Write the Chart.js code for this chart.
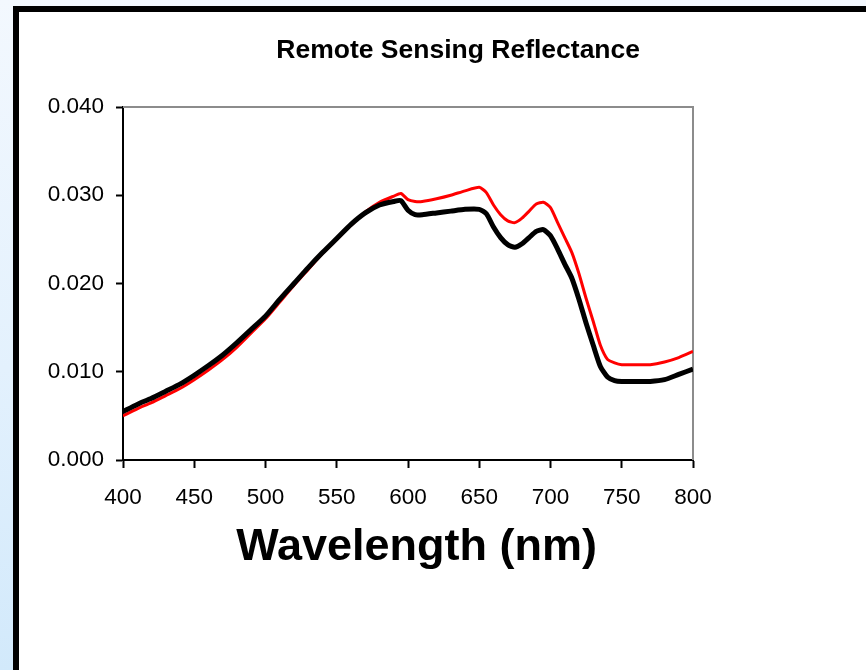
<!DOCTYPE html>
<html>
<head>
<meta charset="utf-8">
<script src="https://cdn.jsdelivr.net/npm/chart.js@4"></script>
<style>
  html, body { margin: 0; padding: 0; overflow: hidden; }
  body {
    width: 866px; height: 670px;
    background: linear-gradient(to bottom, #f3f8fe 0%, #e3f1fd 55%, #d2e9fb 100%);
  }
  .frame {
    position: absolute; left: 13px; top: 6px;
    width: 900px; height: 700px;
    border-left: 6px solid #000; border-top: 6px solid #000;
    background: #fff;
  }
  .wrap { position: absolute; left: 0; top: 0; width: 847px; height: 658px; }
</style>
</head>
<body>
<div class="frame"><div class="wrap"><canvas id="chart"></canvas></div></div>
<script>
// wavelength (nm) and the two reflectance spectra
const wavelengths = [400, 410, 420, 430, 440, 450, 460, 470, 480, 490, 500, 510, 520, 530, 540, 550, 560, 570, 580, 590, 595,
  600, 605, 610, 620, 630, 640, 650, 655, 660, 665, 670, 675, 680, 685, 690, 695, 700, 705, 710, 715, 720, 725, 730, 735,
  740, 745, 750, 760, 770, 780, 790, 800];
const blackSeries = [0.0055, 0.0063, 0.0070, 0.0078, 0.0086, 0.0096, 0.0107, 0.0119, 0.0133, 0.0148, 0.0163, 0.0182, 0.0200,
  0.0218, 0.0235, 0.0251, 0.0267, 0.0280, 0.0289, 0.0293, 0.0294,
  0.0283, 0.0278, 0.0278, 0.0280, 0.0282, 0.0284, 0.0284, 0.0279, 0.0264, 0.0252, 0.0244, 0.0241, 0.0245, 0.0252, 0.0259,
  0.0261, 0.0254, 0.0239, 0.0222, 0.0206, 0.0182, 0.0155, 0.0130, 0.0106,
  0.0094, 0.0090, 0.0089, 0.0089, 0.0089, 0.0091, 0.0097, 0.0103];
const redSeries = [0.0050, 0.0058, 0.0065, 0.0073, 0.0081, 0.0091, 0.0102, 0.0114, 0.0128, 0.0144, 0.0160, 0.0179, 0.0198,
  0.0216, 0.0234, 0.0250, 0.0266, 0.0281, 0.0292, 0.0299, 0.0302,
  0.0295, 0.0293, 0.0293, 0.0296, 0.0300, 0.0305, 0.0309, 0.0303, 0.0289, 0.0278, 0.0271, 0.0269, 0.0274, 0.0282, 0.0290,
  0.0292, 0.0286, 0.0269, 0.0252, 0.0235, 0.0211, 0.0183, 0.0157, 0.0130,
  0.0114, 0.0110, 0.0108, 0.0108, 0.0108, 0.0111, 0.0116, 0.0123];

const xTicks = [400, 450, 500, 550, 600, 650, 700, 750, 800];
const yTicks = [0, 0.01, 0.02, 0.03, 0.04];

const FONT = "'Liberation Sans', Arial, sans-serif";

function toPoints(values) {
  return wavelengths.map((w, i) => ({ x: w, y: values[i] }));
}

// grey frame on top/right of the plot area, plus the two titles
const decorations = {
  id: "decorations",
  beforeDatasetsDraw(chart) {
    const { ctx, chartArea: a } = chart;
    ctx.save();
    ctx.strokeStyle = "#8c8c8c";
    ctx.lineWidth = 2;
    ctx.beginPath();
    ctx.moveTo(a.left, a.top);
    ctx.lineTo(a.right, a.top);
    ctx.lineTo(a.right, a.bottom);
    ctx.stroke();
    ctx.restore();
  },
  afterDraw(chart) {
    const { ctx, chartArea: a } = chart;
    ctx.save();
    ctx.fillStyle = "#000";
    ctx.textAlign = "center";
    ctx.textBaseline = "alphabetic";
    ctx.font = "bold 26.5px " + FONT;
    ctx.fillText("Remote Sensing Reflectance", a.left + (a.right - a.left) * 0.588, a.top - 49.5);
    ctx.font = "bold 45px " + FONT;
    ctx.fillText("Wavelength (nm)", a.left + (a.right - a.left) * 0.515, a.bottom + 100);
    ctx.restore();
  }
};

new Chart(document.getElementById("chart"), {
  type: "line",
  data: {
    datasets: [
      {
        label: "black",
        data: toPoints(blackSeries),
        borderColor: "#000",
        borderWidth: 5,
        pointRadius: 0,
        tension: 0.2
      },
      {
        label: "red",
        data: toPoints(redSeries),
        borderColor: "#ff0000",
        borderWidth: 3,
        pointRadius: 0,
        tension: 0.2
      }
    ]
  },
  options: {
    responsive: true,
    maintainAspectRatio: false,
    animation: false,
    layout: { padding: { left: 0, right: 173, top: 95, bottom: 150 } },
    plugins: {
      legend: { display: false },
      tooltip: { enabled: false },
      title: { display: false }
    },
    scales: {
      x: {
        type: "linear",
        min: 400,
        max: 800,
        afterBuildTicks: s => { s.ticks = xTicks.map(v => ({ value: v })); },
        afterFit: s => { s.height = 60; },
        ticks: {
          color: "#000",
          font: { family: FONT, size: 22.5 },
          padding: 16,
          maxRotation: 0
        },
        grid: {
          drawOnChartArea: false,
          tickLength: 8,
          tickWidth: 2,
          tickColor: "#000"
        },
        border: { color: "#000", width: 2 }
      },
      y: {
        min: 0,
        max: 0.04,
        afterBuildTicks: s => { s.ticks = yTicks.map(v => ({ value: v })); },
        afterFit: s => { s.width = 104; },
        ticks: {
          color: "#000",
          font: { family: FONT, size: 22.5 },
          padding: 12,
          callback: v => v.toFixed(3)
        },
        grid: {
          drawOnChartArea: false,
          tickLength: 7,
          tickWidth: 2,
          tickColor: "#000"
        },
        border: { color: "#000", width: 2 }
      }
    }
  },
  plugins: [decorations]
});
</script>
</body>
</html>
